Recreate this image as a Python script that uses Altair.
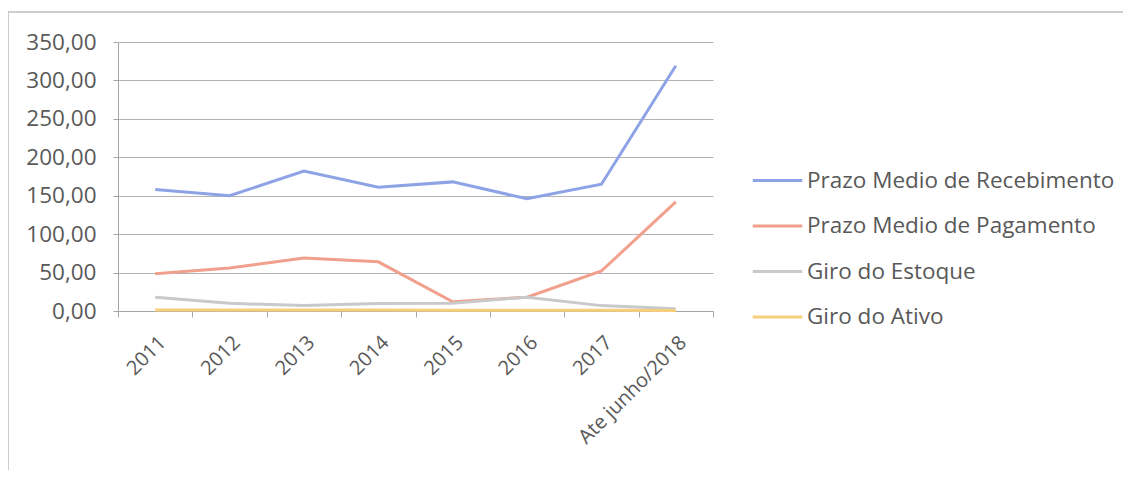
import altair as alt
import pandas as pd

categories = ["2011", "2012", "2013", "2014", "2015", "2016", "2017", "Ate junho/2018"]
series_names = ["Prazo Medio de Recebimento", "Prazo Medio de Pagamento", "Giro do Estoque", "Giro do Ativo"]
recebimento = [158, 150, 182, 161, 168, 146, 165, 319]
pagamento = [48.6, 56, 69, 64, 12, 18, 52, 142]
estoque = [18, 10, 7, 9.6, 10, 18, 7, 3]
ativo = [1.3, 1.3, 1.2, 1.2, 1.0, 1.1, 0.9, 0.6]
colors = ["#8ea3e6", "#f0a08c", "#c9c9c9", "#f7cf7a"]

rows = []
for name, vals in zip(series_names, [recebimento, pagamento, estoque, ativo]):
    for c, v in zip(categories, vals):
        rows.append({"cat": c, "serie": name, "valor": v})
df = pd.DataFrame(rows)

FONT = "Open Sans"
x_scale = alt.Scale(domain=categories, paddingInner=0, paddingOuter=0)

lines = alt.Chart(df).mark_line(strokeWidth=3).encode(
    x=alt.X("cat:N", sort=categories, scale=x_scale, title=None,
            axis=alt.Axis(orient="bottom", labelAngle=-45, labelFont=FONT, labelFontSize=20,
                          labelColor="#595959", ticks=True, tickBand="extent",
                          tickSize=6, tickColor="#a6a6a6", domain=True,
                          domainColor="#a6a6a6", labelPadding=15, grid=False)),
    y=alt.Y("valor:Q", scale=alt.Scale(domain=[0, 350]), title=None,
            axis=alt.Axis(values=[0, 50, 100, 150, 200, 250, 300, 350],
                          labelExpr="replace(format(datum.value, '.2f'), '.', ',')",
                          labelFont=FONT, labelFontSize=22.5, labelColor="#595959",
                          gridColor="#b3b3b3", domainColor="#a6a6a6",
                          tickColor="#a6a6a6", tickSize=5, labelPadding=17)),
    color=alt.Color("serie:N", sort=series_names,
                    scale=alt.Scale(domain=series_names, range=colors),
                    legend=alt.Legend(title=None, orient="none", legendX=633, legendY=112,
                                      symbolType="stroke", symbolSize=2450,
                                      symbolStrokeWidth=3, labelFont=FONT,
                                      labelFontSize=22.5, labelColor="#595959",
                                      labelLimit=0, labelOffset=3, rowPadding=7.5)),
)

frame = alt.Chart(alt.Data(values=[{}])).mark_rect(
    fill=None, stroke="#bdbdbd", strokeWidth=1.5
).encode(
    x=alt.value(-110), x2=alt.value(1200), y=alt.value(-30), y2=alt.value(600)
)

chart = alt.layer(frame, lines).properties(
    width=595, height=269,
    autosize=alt.AutoSizeParams(type="none"),
    padding={"left": 110, "top": 34, "right": 410, "bottom": 159},
).configure_view(stroke=None)

chart.save("out.html", embed_options={"renderer": "svg", "actions": False})
